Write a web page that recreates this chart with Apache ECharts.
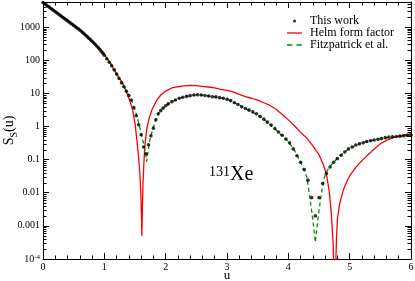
<!DOCTYPE html>
<html><head><meta charset="utf-8">
<script src="https://cdn.jsdelivr.net/npm/echarts@6/dist/echarts.min.js"></script>
<style>html,body{margin:0;padding:0;background:#fff}#c{width:415px;height:281px}</style>
</head><body><div id="c"></div>
<script>
// "This work" (black dots)
const uDots = [0,0.025,0.05,0.075,0.1,0.125,0.15,0.175,0.2,0.225,0.25,0.275,0.3,0.325,0.35,0.375,0.4,0.425,0.45,0.475,0.5,0.525,0.55,0.575,0.6,0.625,0.65,0.675,0.7,0.725,0.75,0.775,0.8,0.825,0.85,0.875,0.9,0.925,0.95,0.975,1.0,
  1.04,1.08,1.12,1.16,1.2,1.24,1.28,1.32,1.36,1.4,1.44,1.48,1.52,1.56,1.6,1.64,1.68,1.72,1.76,1.8,1.84,1.88,1.92,1.96,2.0,
  2.04,2.10,2.16,2.22,2.28,2.34,2.40,2.46,2.52,2.58,2.64,2.70,2.76,2.82,2.88,2.94,3.00,3.06,3.12,3.18,3.24,3.30,3.36,3.42,3.48,3.54,3.60,3.66,3.72,3.78,3.84,3.90,3.96,4.02,4.08,4.14,4.20,4.26,4.32,4.38,4.44,4.50,4.56,4.62,4.68,4.74,4.80,4.86,4.92,4.98,5.04,5.10,5.16,5.22,5.28,5.34,5.40,5.46,5.52,5.58,5.64,5.70,5.76,5.82,5.88,5.94,6.00];
const sDots = [5500,5070,4690,4330,4000,3690,3410,3150,2900,2690,2480,2290,2110,1950,1800,1660,1540,1420,1310,1210,1120,1030,953,881,813,741,675,612,556,504,456,412,372,335,301,269,240,213,187,163,141,
  111,87,68,51,38,27.9,20.9,15.8,11.6,8.6,6.3,3.7,2.1,1.12,0.56,0.24,0.15,0.28,0.52,0.89,1.58,2.4,3.0,3.6,4.2,
  4.8,5.6,6.3,7.1,7.6,8.1,8.5,8.9,9.0,8.9,8.6,8.3,7.9,7.8,7.4,7.1,6.6,6.0,5.2,4.6,3.9,3.5,3.1,2.75,2.4,2.0,1.66,1.35,1.1,0.87,0.68,0.54,0.42,0.32,0.21,0.13,0.083,0.050,0.024,0.0071,0.0020,0.0071,0.019,0.038,0.060,0.083,0.107,0.135,0.17,0.21,0.24,0.275,0.30,0.32,0.35,0.37,0.39,0.41,0.43,0.46,0.48,0.49,0.50,0.51,0.52,0.54,0.55];
// Helm form factor (red)
const uHelm = [0,0.3,0.6,0.9,1.0,1.1,1.2,1.3,1.36,1.42,1.46,1.50,1.53,1.56,1.58,1.595,1.605,1.612,1.62,1.63,1.645,1.66,1.69,1.73,1.78,1.85,1.92,2.0,2.1,2.2,2.3,2.4,2.5,2.6,2.7,2.8,2.9,3.0,3.1,3.2,3.3,3.4,3.5,3.6,3.7,3.8,3.9,4.0,4.1,4.2,4.3,4.4,4.5,4.56,4.62,4.67,4.70,4.73,4.745,4.755,4.77,4.785,4.80,4.84,4.9,4.95,5.0,5.1,5.2,5.3,5.4,5.5,5.6,5.7,5.8,5.9,6.0];
const sHelm = [5500,2140,813,245,151,79,38,20,11.2,5.6,3.2,1.26,0.40,0.11,0.035,0.010,0.0020,0.0005,0.0032,0.018,0.079,0.25,0.79,1.78,3.3,6.0,8.9,11.7,14.5,15.8,16.8,17.2,17.0,16.2,15.5,14.5,13.2,12.3,11.0,9.3,7.9,7.1,6.2,5.2,4.3,3.3,2.3,1.58,1.05,0.66,0.45,0.26,0.14,0.079,0.038,0.010,0.0025,0.0003,0.00003,0.000001,0.00004,0.0004,0.0016,0.005,0.0126,0.021,0.032,0.058,0.093,0.14,0.21,0.30,0.38,0.45,0.51,0.56,0.60];
// Fitzpatrick et al. (green dashed)
const uFitz = [0,0.3,0.6,0.9,1.1,1.2,1.3,1.4,1.46,1.5,1.55,1.6,1.64,1.67,1.69,1.71,1.74,1.79,1.85,1.9,2.0,2.1,2.2,2.3,2.4,2.5,2.6,2.7,2.8,2.9,3.0,3.1,3.2,3.3,3.4,3.5,3.6,3.7,3.8,3.9,4.0,4.1,4.2,4.3,4.35,4.40,4.44,4.48,4.54,4.59,4.64,4.7,4.8,4.9,5.0,5.2,5.4,5.6,5.8,6.0];
const sFitz = [5500,2140,813,251,83,40,18.6,8.9,5.2,3.2,1.5,0.63,0.30,0.16,0.087,0.16,0.38,0.83,1.9,2.9,4.2,5.6,6.8,7.8,8.5,9.0,8.8,8.3,7.8,7.2,6.6,5.5,4.4,3.5,2.8,2.2,1.66,1.15,0.78,0.52,0.35,0.19,0.083,0.030,0.0074,0.0015,0.00032,0.0015,0.010,0.030,0.049,0.069,0.11,0.16,0.22,0.32,0.39,0.45,0.50,0.54];
// y tick labels
const yTickExps = [-4,-3,-2,-1,0,1,2,3];
const yTickLabels = ['{b|10}{s|-4}','0.001','0.01','0.1','1','10','100','1000'];

const F = 'Liberation Serif';
const yMin = 1e-4, yMax = 5700;
const zip = (u, s) => u.map((x, i) => [x, s[i]]);
const minorVals = [];
for (let e = -4; e <= 3; e++) for (let k = 2; k <= 9; k++) { const v = k * Math.pow(10, e); if (v < yMax) minorVals.push([0, v]); }

const chart = echarts.init(document.getElementById('c'), null, {renderer: 'canvas'});
const axisCommon = {
  axisLine: {show: true, onZero: false, lineStyle: {color: '#000', width: 1}},
  axisTick: {show: true, inside: true, length: 6, lineStyle: {color: '#000', width: 1}},
  splitLine: {show: false}
};
const xBase = Object.assign({type: 'value', min: 0, max: 6, interval: 1,
  minorTick: {show: true, splitNumber: 5, length: 3.5, lineStyle: {color: '#000', width: 1}}}, axisCommon);
const yBase = Object.assign({type: 'log', logBase: 10, min: yMin, max: yMax, minorTick: {show: false}}, axisCommon);

const option = {
  animation: false,
  backgroundColor: '#fff',
  grid: {left: 43, right: 4, top: 2, bottom: 22, outerBoundsMode: 'none', containLabel: false},
  legend: {
    left: 287, top: 15, orient: 'vertical', padding: 0, itemGap: 0, itemWidth: 15, itemHeight: 12,
    textStyle: {fontFamily: F, fontSize: 12, color: '#000', lineHeight: 12, padding: [0, 0, 0, 3]},
    data: [
      {name: 'This work', icon: 'path://M0,0M15,12M6,6a1.6,1.6 0 1,0 3.2,0a1.6,1.6 0 1,0 -3.2,0Z'},
      {name: 'Helm form factor', icon: 'path://M0,0M15,12M0,5.35h15v1.3h-15Z'},
      {name: 'Fitzpatrick et al.', icon: 'path://M0,0M15,12M0,5.35h5.5v1.3h-5.5ZM9.5,5.35h5.5v1.3h-5.5Z'}
    ]
  },
  xAxis: [
    Object.assign({}, xBase, {position: 'bottom', name: 'u', nameLocation: 'middle', nameGap: 10, nameMoveOverlap: false,
      nameTextStyle: {fontFamily: F, fontSize: 13, color: '#000'},
      axisLabel: {fontFamily: F, fontSize: 10, color: '#000', margin: 3}}),
    Object.assign({}, xBase, {position: 'top', axisLabel: {show: false}})
  ],
  yAxis: [
    Object.assign({}, yBase, {position: 'left',
      name: '{m|S}{sub|S}{m|(u)}', nameLocation: 'middle', nameGap: 27, nameRotate: 90, nameMoveOverlap: false,
      nameTextStyle: {color: '#000', rich: {
        m: {fontFamily: F, fontSize: 14, lineHeight: 14, verticalAlign: 'top', color: '#000'},
        sub: {fontFamily: F, fontSize: 10, lineHeight: 10, padding: [7, 0, 0, 0], verticalAlign: 'top', color: '#000'}}},
      axisLabel: {fontFamily: F, fontSize: 10, color: '#000', margin: 3,
        formatter: v => { const l = Math.log10(v); const e = Math.round(l); if (Math.abs(l - e) > 1e-6) return ''; const i = yTickExps.indexOf(e); return i < 0 ? '' : yTickLabels[i]; },
        rich: {
          b: {fontFamily: F, fontSize: 10, lineHeight: 10, verticalAlign: 'bottom', color: '#000'},
          s: {fontFamily: F, fontSize: 7, lineHeight: 7, padding: [0, 0, 9, 0], verticalAlign: 'top', color: '#000'}
        }}}),
    Object.assign({}, yBase, {position: 'right', axisLabel: {show: false}})
  ],
  graphic: [{
    type: 'text', left: 209, top: 164.5, silent: true,
    style: {text: '{a|131}{b|Xe}', fill: '#000', rich: {
      a: {fontFamily: F, fontSize: 14, lineHeight: 14, verticalAlign: 'top', fill: '#000'},
      b: {fontFamily: F, fontSize: 20, lineHeight: 19, verticalAlign: 'bottom', fill: '#000'}
    }}
  }],
  series: [
    {type: 'custom', name: 'minor', silent: true, xAxisIndex: 0, yAxisIndex: 0, z: 1, clip: false,
     data: minorVals,
     renderItem: (params, api) => {
       const v = api.value(1);
       const p0 = api.coord([0, v]);
       const p1 = api.coord([6, v]);
       const y = Math.round(p0[1]) + 0.5;
       return {type: 'group', children: [
         {type: 'line', shape: {x1: p0[0], y1: y, x2: p0[0] + 3.5, y2: y}, style: {stroke: '#000', lineWidth: 1}},
         {type: 'line', shape: {x1: p1[0], y1: y, x2: p1[0] - 3.5, y2: y}, style: {stroke: '#000', lineWidth: 1}}
       ]};
     }},
    {type: 'line', name: 'Helm form factor', data: zip(uHelm, sHelm), symbol: 'none', showSymbol: false, z: 2,
     lineStyle: {color: '#ff0000', width: 1.3}, itemStyle: {color: '#ff0000'}},
    {type: 'line', name: 'Fitzpatrick et al.', data: zip(uFitz, sFitz), symbol: 'none', showSymbol: false, z: 3,
     lineStyle: {color: '#009000', width: 1.3, type: [4, 3]}, itemStyle: {color: '#009000'}},
    {type: 'scatter', name: 'This work', data: zip(uDots, sDots), symbol: 'circle', symbolSize: 3.6, z: 4,
     itemStyle: {color: '#000'}}
  ]
};
chart.setOption(option);
</script>
</body></html>
